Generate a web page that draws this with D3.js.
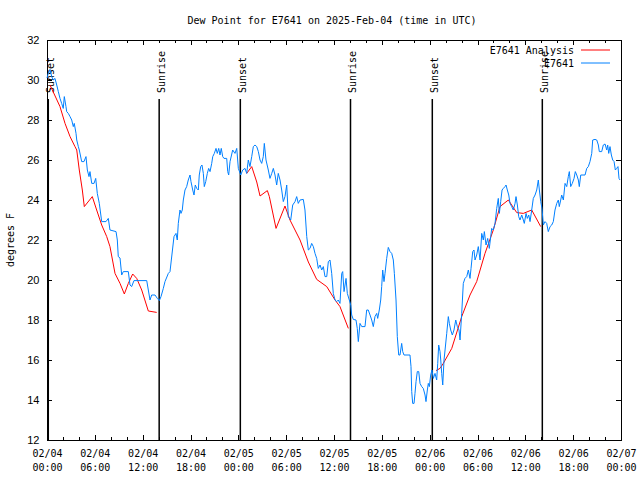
<!DOCTYPE html>
<html><head><meta charset="utf-8">
<script src="https://cdn.jsdelivr.net/npm/d3@7"></script>
<style>body{margin:0;background:#fff} svg{display:block}</style>
</head><body><svg id="c" width="640" height="480"></svg>
<script>
const chartTitle = "Dew Point for E7641 on 2025-Feb-04 (time in UTC)";
const yAxisLabel = "degrees F";
const seriesNames = ["E7641 Analysis", "E7641"];
const startTime = Date.UTC(2025, 1, 4, 0, 0);   // 02/04 00:00 UTC
const spanHours = 72;
const yTickValues = [12,14,16,18,20,22,24,26,28,30,32];

// Observed (E7641): hours since 02/04 00:00 UTC, degrees F
const obsHours = [0.00,0.16,0.38,0.59,0.79,1.00,1.22,1.42,1.63,1.84,2.04,2.17,2.38,2.47,2.67,2.89,3.10,3.30,3.42,3.64,3.73,3.93,4.05,4.35,4.64,4.89,5.06,5.27,5.39,5.61,5.90,6.11,6.31,6.56,6.86,7.40,7.69,7.90,8.66,8.82,8.94,9.16,9.37,9.57,10.20,10.41,10.62,10.91,12.51,12.71,12.92,13.13,13.55,13.84,14.09,14.30,14.59,14.80,15.22,15.43,15.68,15.93,16.18,16.34,16.47,16.68,16.81,16.97,17.10,17.31,17.52,17.72,17.94,18.06,18.28,18.44,18.60,18.78,18.98,19.10,19.28,19.44,19.61,19.73,19.91,20.11,20.28,20.45,20.66,20.79,20.99,21.20,21.36,21.54,21.70,21.86,22.04,22.20,22.54,22.67,22.79,22.96,23.29,23.58,23.80,24.00,24.30,24.55,24.84,25.05,25.25,25.46,25.68,25.88,26.09,26.31,26.51,26.72,26.93,27.13,27.26,27.47,27.76,27.97,28.19,28.39,28.60,28.81,29.01,29.23,29.44,29.64,29.85,30.07,30.27,30.57,30.82,31.11,31.32,31.52,31.74,32.15,32.36,32.58,32.78,32.99,33.20,33.41,33.62,33.83,34.03,34.25,34.46,34.66,34.87,35.09,35.29,35.50,35.71,35.91,36.13,36.34,36.54,36.75,36.97,37.09,37.26,37.51,37.67,37.92,38.10,38.22,38.42,38.76,38.92,39.05,39.26,39.48,39.89,40.10,40.30,40.52,40.73,40.93,41.14,41.36,41.48,41.68,41.86,41.98,42.11,42.27,42.40,42.61,42.81,43.03,43.24,43.44,43.57,43.78,43.94,44.12,44.28,44.49,44.62,44.78,45.53,45.66,45.75,45.87,46.04,46.16,46.29,46.45,46.63,46.79,47.00,47.20,47.42,47.54,47.71,47.83,47.96,48.13,48.29,48.46,48.67,48.88,49.01,49.13,49.30,49.39,49.51,49.64,49.80,49.93,50.14,50.34,50.47,50.64,50.84,51.05,51.27,51.47,51.68,51.81,52.02,52.22,52.43,52.65,52.85,53.06,53.19,53.40,53.56,53.69,53.90,54.10,54.32,54.53,54.73,54.86,55.07,55.28,55.48,55.66,55.78,55.98,56.20,56.41,56.61,56.74,56.91,57.08,57.24,57.45,57.58,57.74,57.92,58.08,58.29,58.49,58.71,58.83,59.00,59.17,59.33,59.55,59.75,59.87,60.09,60.25,60.43,60.59,60.80,61.00,61.22,61.43,61.63,61.76,61.93,62.09,62.26,62.47,62.68,62.88,63.10,63.31,63.51,63.72,63.94,64.14,64.26,64.44,64.56,64.77,64.98,65.19,65.39,65.52,65.69,65.89,66.11,66.27,66.45,66.65,66.77,66.95,67.49,67.70,67.90,68.11,68.33,68.45,68.74,68.96,69.16,69.28,69.58,69.78,70.00,70.21,70.33,70.46,70.62,70.79,70.96,71.13,71.29,71.46,71.62,71.75,71.88];
const obsValues = [30.10,30.33,30.53,30.17,30.00,30.08,29.75,29.42,29.08,28.83,28.58,29.17,28.67,28.42,28.33,28.17,28.00,27.67,27.83,27.33,27.00,26.67,26.50,25.92,25.92,26.17,25.50,25.17,25.42,24.83,24.83,25.08,24.33,23.83,22.92,22.92,23.08,22.50,22.42,22.00,21.17,21.10,20.25,20.42,20.42,19.75,19.67,19.97,19.97,19.50,19.00,19.25,19.25,19.08,18.97,19.17,19.58,19.92,20.33,20.42,21.30,22.17,22.33,22.00,22.83,23.50,23.33,23.50,24.00,24.50,24.67,25.00,25.25,24.92,24.50,24.25,24.75,24.58,24.50,25.25,25.67,25.75,25.33,24.67,24.92,25.33,25.58,25.42,25.83,26.17,26.33,26.58,26.33,26.58,26.25,26.58,26.17,26.08,26.08,25.42,25.25,25.92,26.50,26.33,26.58,25.58,25.25,25.50,25.58,25.33,26.00,25.67,26.17,26.67,26.75,26.67,26.42,26.00,25.83,26.17,26.83,26.00,25.50,25.08,25.33,25.58,25.25,24.75,25.33,25.00,24.50,23.92,24.17,24.75,23.17,23.00,23.75,23.92,24.17,23.83,24.00,24.03,23.50,22.17,21.50,21.58,21.83,21.67,21.33,21.08,20.58,20.75,20.50,20.67,20.17,20.17,20.92,21.00,20.33,19.33,19.00,18.92,19.00,18.83,20.33,20.42,19.42,20.08,19.33,19.00,18.75,18.25,18.03,18.00,17.58,16.92,17.83,17.67,17.67,18.50,18.50,18.25,18.00,17.67,18.17,18.33,18.08,18.50,19.00,19.67,20.50,19.92,20.33,21.08,21.63,21.42,21.33,21.00,20.33,19.00,17.17,16.25,16.25,16.83,16.42,16.25,16.25,15.67,14.42,13.83,13.83,14.33,14.92,15.42,15.42,14.83,14.67,14.58,14.25,13.92,14.50,14.83,14.67,15.25,15.50,15.08,15.33,15.00,15.83,16.75,16.42,16.00,15.33,14.75,16.00,16.50,17.33,18.17,17.83,17.50,17.25,17.50,18.00,17.67,17.50,17.00,18.33,19.83,20.08,20.17,20.50,20.08,20.58,21.42,21.50,21.00,21.25,21.67,21.00,22.33,22.00,22.42,21.75,22.08,21.58,22.17,22.58,22.50,22.83,23.58,24.08,23.33,23.92,24.50,24.58,24.67,24.75,24.50,24.25,23.83,23.67,23.50,23.83,24.17,23.75,23.17,23.00,23.25,23.00,22.83,23.33,23.08,23.25,22.92,23.50,24.08,24.25,24.50,25.00,24.50,23.92,23.58,22.75,22.92,22.83,22.42,22.67,22.75,22.92,23.50,23.83,24.00,23.67,24.00,24.25,24.00,24.83,24.67,25.17,25.42,24.67,24.83,25.08,25.42,25.25,25.00,24.67,25.25,25.25,25.58,25.67,25.92,26.33,27.00,27.03,27.00,26.75,26.42,26.42,26.75,26.80,26.50,26.75,26.33,26.67,26.25,26.00,25.92,25.50,25.58,25.67,25.08,25.00];

// Analysis (E7641 Analysis): null = gap between runs
const anaHours = [0.38,1.63,2.26,2.89,3.51,3.73,4.05,4.43,4.68,5.68,6.23,6.86,7.49,7.90,8.53,9.16,9.70,10.20,10.75,11.25,11.88,12.71,13.76, 20.0,
  25.05,25.68,26.31,26.72,27.64,27.89,28.73,29.85,30.48,31.74,32.78,33.83,35.09,36.13,36.75,37.80, 45.0,
  48.80,49.30,49.71,50.77,52.02,53.06,53.90,54.94,55.98,56.82,57.87,58.92,59.75,60.80,61.93];
const anaValues = [29.75,28.67,27.83,27.17,26.67,26.50,25.50,24.50,23.67,24.17,23.50,22.75,22.17,21.67,20.33,19.83,19.30,19.83,20.30,20.08,19.50,18.45,18.38, null,
  25.33,25.67,24.90,24.20,24.47,24.17,22.58,23.70,23.00,22.00,20.90,20.03,19.67,19.00,18.67,17.58, null,
  15.47,15.58,15.83,16.58,18.17,19.25,19.92,21.33,22.50,23.67,24.00,23.37,23.33,23.50,22.67];

// Sunrise / sunset markers
const sunHours = [0.16, 14.07, 24.25, 38.07, 48.33, 62.13];
const sunLabels = ["Sunset", "Sunrise", "Sunset", "Sunrise", "Sunset", "Sunrise"];

const HOUR = 3600 * 1000;
const toDate = h => new Date(startTime + h * HOUR);
const monoFont = "'DejaVu Sans Mono', 'Liberation Mono', monospace";
const sansFont = "'Liberation Sans', Arial, sans-serif";

const W = 640, H = 480;
const m = {left: 47, right: 621, top: 40, bottom: 440};
const svg = d3.select("#c");
svg.append("rect").attr("width", W).attr("height", H).attr("fill", "#fff");

const x = d3.scaleUtc().domain([toDate(0), toDate(spanHours)]).range([m.left, m.right]);
const y = d3.scaleLinear().domain([12, 32]).range([m.bottom, m.top]);

const majorTicks = d3.range(0, spanHours + 1, 6).map(toDate);
const minorTicks = d3.range(0, spanHours + 1, 2).filter(h => h % 6 !== 0).map(toDate);
const fmt = d3.utcFormat("%m/%d %H:%M");

function styleAxis(g) {
  g.select(".domain").remove();
  g.selectAll("line").attr("stroke", "#000").attr("stroke-width", 1).attr("shape-rendering", "crispEdges");
}

// bottom axis
const gxb = svg.append("g").attr("transform", `translate(0,${m.bottom})`)
  .call(d3.axisBottom(x).tickValues(majorTicks).tickSize(-5).tickFormat(fmt).tickPadding(0));
styleAxis(gxb);
gxb.selectAll("text").each(function(d) {
  const parts = fmt(d).split(" ");
  const t = d3.select(this).text(null).attr("dy", null).attr("y", null)
    .attr("font-family", monoFont).attr("font-size", 10).attr("fill", "#000");
  t.append("tspan").attr("x", 0).attr("y", 17).text(parts[0]);
  t.append("tspan").attr("x", 0).attr("y", 31).text(parts[1]);
});
svg.append("g").attr("transform", `translate(0,${m.bottom})`)
  .call(d3.axisBottom(x).tickValues(minorTicks).tickSize(-3).tickFormat(""))
  .call(styleAxis);
// top mirror
svg.append("g").attr("transform", `translate(0,${m.top})`)
  .call(d3.axisTop(x).tickValues(majorTicks).tickSize(-5).tickFormat(""))
  .call(styleAxis);
svg.append("g").attr("transform", `translate(0,${m.top})`)
  .call(d3.axisTop(x).tickValues(minorTicks).tickSize(-3).tickFormat(""))
  .call(styleAxis);
// left axis
const gyl = svg.append("g").attr("transform", `translate(${m.left},0)`)
  .call(d3.axisLeft(y).tickValues(yTickValues).tickSize(-5).tickPadding(7.5).tickFormat(d3.format("d")));
styleAxis(gyl);
gyl.selectAll("text").attr("font-family", sansFont).attr("font-size", 11).attr("fill", "#000");
// right mirror
svg.append("g").attr("transform", `translate(${m.right},0)`)
  .call(d3.axisRight(y).tickValues(yTickValues).tickSize(-5).tickFormat(""))
  .call(styleAxis);

// frame
svg.append("rect").attr("x", m.left + 0.5).attr("y", m.top + 0.5)
  .attr("width", m.right - m.left).attr("height", m.bottom - m.top)
  .attr("fill", "none").attr("stroke", "#000").attr("stroke-width", 1).attr("shape-rendering", "crispEdges");

// sunrise/sunset markers
const sunG = svg.append("g");
sunHours.forEach((h, i) => {
  const sx = x(toDate(h));
  sunG.append("line").attr("x1", sx).attr("x2", sx).attr("y1", 99).attr("y2", m.bottom)
    .attr("stroke", "#000").attr("stroke-width", 1.5);
  sunG.append("text").attr("transform", `translate(${sx + 2},93) rotate(-90)`)
    .attr("text-anchor", "start").attr("dominant-baseline", "central")
    .attr("font-family", monoFont).attr("font-size", 10).attr("fill", "#000")
    .text(sunLabels[i]);
});

// series
const obs = obsHours.map((h, i) => ({t: toDate(h), v: obsValues[i]}));
const ana = anaHours.map((h, i) => ({t: toDate(h), v: anaValues[i]}));
const line = d3.line().defined(d => d.v !== null).x(d => x(d.t)).y(d => y(d.v));
svg.append("path").datum(ana).attr("d", line).attr("fill", "none").attr("stroke", "#ff0000").attr("stroke-width", 1);
svg.append("path").datum(obs).attr("d", line).attr("fill", "none").attr("stroke", "#0080ff").attr("stroke-width", 1);

// title
svg.append("text").attr("x", 332).attr("y", 20).attr("text-anchor", "middle").attr("dominant-baseline", "central")
  .attr("font-family", monoFont).attr("font-size", 10).attr("fill", "#000").text(chartTitle);
// y label
svg.append("text").attr("transform", "translate(10,240) rotate(-90)").attr("text-anchor", "middle")
  .attr("dominant-baseline", "central").attr("font-family", monoFont).attr("font-size", 10).attr("fill", "#000")
  .text(yAxisLabel);

// legend
const legColors = ["#ff0000", "#0080ff"];
seriesNames.forEach((n, i) => {
  const ly = 50 + i * 13;
  svg.append("text").attr("x", 574).attr("y", ly).attr("text-anchor", "end").attr("dominant-baseline", "central")
    .attr("font-family", monoFont).attr("font-size", 10).attr("fill", "#000").text(n);
  svg.append("line").attr("x1", 581).attr("x2", 610).attr("y1", ly).attr("y2", ly)
    .attr("stroke", legColors[i]).attr("stroke-width", 1);
});
</script></body></html>
